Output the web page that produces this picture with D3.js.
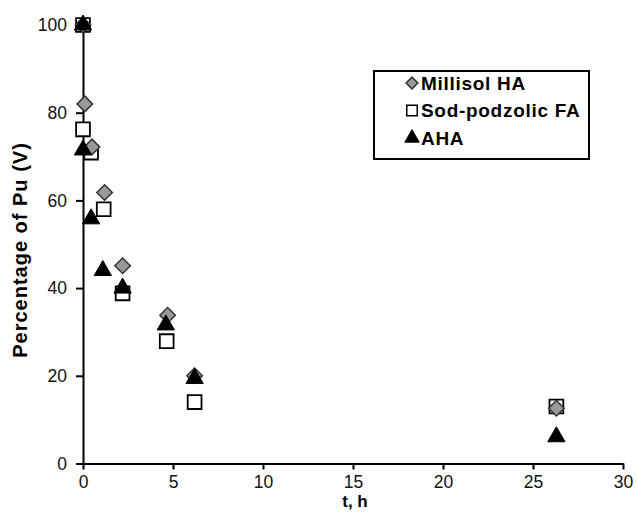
<!DOCTYPE html>
<html>
<head>
<meta charset="utf-8">
<script src="https://cdn.jsdelivr.net/npm/d3@7"></script>
<style>
  body { margin: 0; background: #fff; }
  text { font-family: "Liberation Sans", Arial, sans-serif; }
</style>
</head>
<body>
<div id="chart"></div>
<script>
// data
var seriesNames = ["Millisol HA", "Sod-podzolic FA", "AHA"];
var millisolT = [0, 0.1, 0.5, 1.2, 2.2, 4.7, 6.2, 26.3];
var millisolV = [100, 82, 72.2, 61.8, 45.1, 33.8, 20.0, 12.6];
var sodT = [0, 0, 0.45, 1.15, 2.2, 4.65, 6.2, 26.3];
var sodV = [100, 76.2, 70.9, 58, 38.8, 27.9, 14, 13];
var ahaT = [0, 0, 0.45, 1.1, 2.2, 4.6, 6.2, 26.3];
var ahaV = [100, 71.5, 55.8, 44, 40, 31.6, 19.4, 6.1];
var xTicks = [0, 5, 10, 15, 20, 25, 30];
var yTicks = [0, 20, 40, 60, 80, 100];

function init() {
    var w = 637, h = 516;

    var svg = d3.select("#chart").append("svg")
        .attr("width", w).attr("height", h);

    var x = d3.scaleLinear().domain([0, 30]).range([83, 623]);
    var y = d3.scaleLinear().domain([0, 100]).range([463.5, 25]);

    // axes
    var xAxis = svg.append("g")
        .attr("transform", "translate(0," + y(0) + ")")
        .call(d3.axisBottom(x).tickValues(xTicks).tickSize(6).tickSizeOuter(0).tickPadding(6));
    var yAxis = svg.append("g")
        .attr("transform", "translate(" + x(0) + ",0)")
        .call(d3.axisLeft(y).tickValues(yTicks).tickSize(7).tickSizeOuter(0).tickPadding(9));
    [xAxis, yAxis].forEach(function(a) {
        a.selectAll("path, line").attr("stroke", "#000").attr("stroke-width", 2);
        a.selectAll("text").attr("font-size", 17.5).attr("fill", "#111")
            .attr("font-family", "Liberation Sans, Arial, sans-serif");
    });

    // axis titles
    svg.append("text")
        .attr("x", 355).attr("y", 507)
        .attr("text-anchor", "middle")
        .attr("font-size", 17).attr("font-weight", "bold")
        .text("t, h");
    svg.append("text")
        .attr("transform", "translate(27,250) rotate(-90)")
        .attr("text-anchor", "middle")
        .attr("font-size", 20).attr("font-weight", "bold")
        .attr("letter-spacing", 1)
        .text("Percentage of Pu (V)");

    var diamond = d3.symbol().type(d3.symbolSquare).size(120);
    var square = d3.symbol().type(d3.symbolSquare).size(190);
    var triangle = d3.symbol().type(d3.symbolTriangle).size(130);

    function drawSeries(ts, vs, sym, style) {
        var pts = ts.map(function(t, i) { return [t, vs[i]]; });
        svg.append("g").selectAll("path")
            .data(pts).enter().append("path")
            .attr("d", sym)
            .attr("transform", function(d) {
                return "translate(" + x(d[0]) + "," + y(d[1]) + ")" + (style.rot ? " rotate(45)" : "");
            })
            .attr("fill", style.fill)
            .attr("stroke", style.stroke)
            .attr("stroke-width", style.sw);
    }

    // squares under diamonds under triangles, as in the original
    drawSeries(sodT, sodV, square, {fill: "#fff", stroke: "#000", sw: 1.8});
    drawSeries(millisolT, millisolV, diamond, {fill: "#999", stroke: "#333", sw: 1.5, rot: true});
    drawSeries(ahaT, ahaV, triangle, {fill: "#000", stroke: "#000", sw: 1});

    // legend
    var leg = svg.append("g");
    leg.append("rect")
        .attr("x", 374).attr("y", 71).attr("width", 215).attr("height", 88)
        .attr("fill", "#fff").attr("stroke", "#000").attr("stroke-width", 2);
    var legSyms = [
        {sym: d3.symbol().type(d3.symbolSquare).size(70), fill: "#999", stroke: "#333", sw: 1.5, rot: true},
        {sym: d3.symbol().type(d3.symbolSquare).size(110), fill: "#fff", stroke: "#000", sw: 1.5},
        {sym: d3.symbol().type(d3.symbolTriangle).size(90), fill: "#000", stroke: "#000", sw: 1}
    ];
    seriesNames.forEach(function(name, i) {
        var yy = 83 + i * 27.5;
        var s = legSyms[i];
        leg.append("path")
            .attr("d", s.sym)
            .attr("transform", "translate(412," + yy + ")" + (s.rot ? " rotate(45)" : ""))
            .attr("fill", s.fill).attr("stroke", s.stroke).attr("stroke-width", s.sw);
        leg.append("text")
            .attr("x", 421).attr("y", yy + 6.5)
            .attr("font-size", 19).attr("font-weight", "bold")
            .attr("letter-spacing", 0.7)
            .text(name);
    });
}

window.onload = init;
</script>
</body>
</html>
